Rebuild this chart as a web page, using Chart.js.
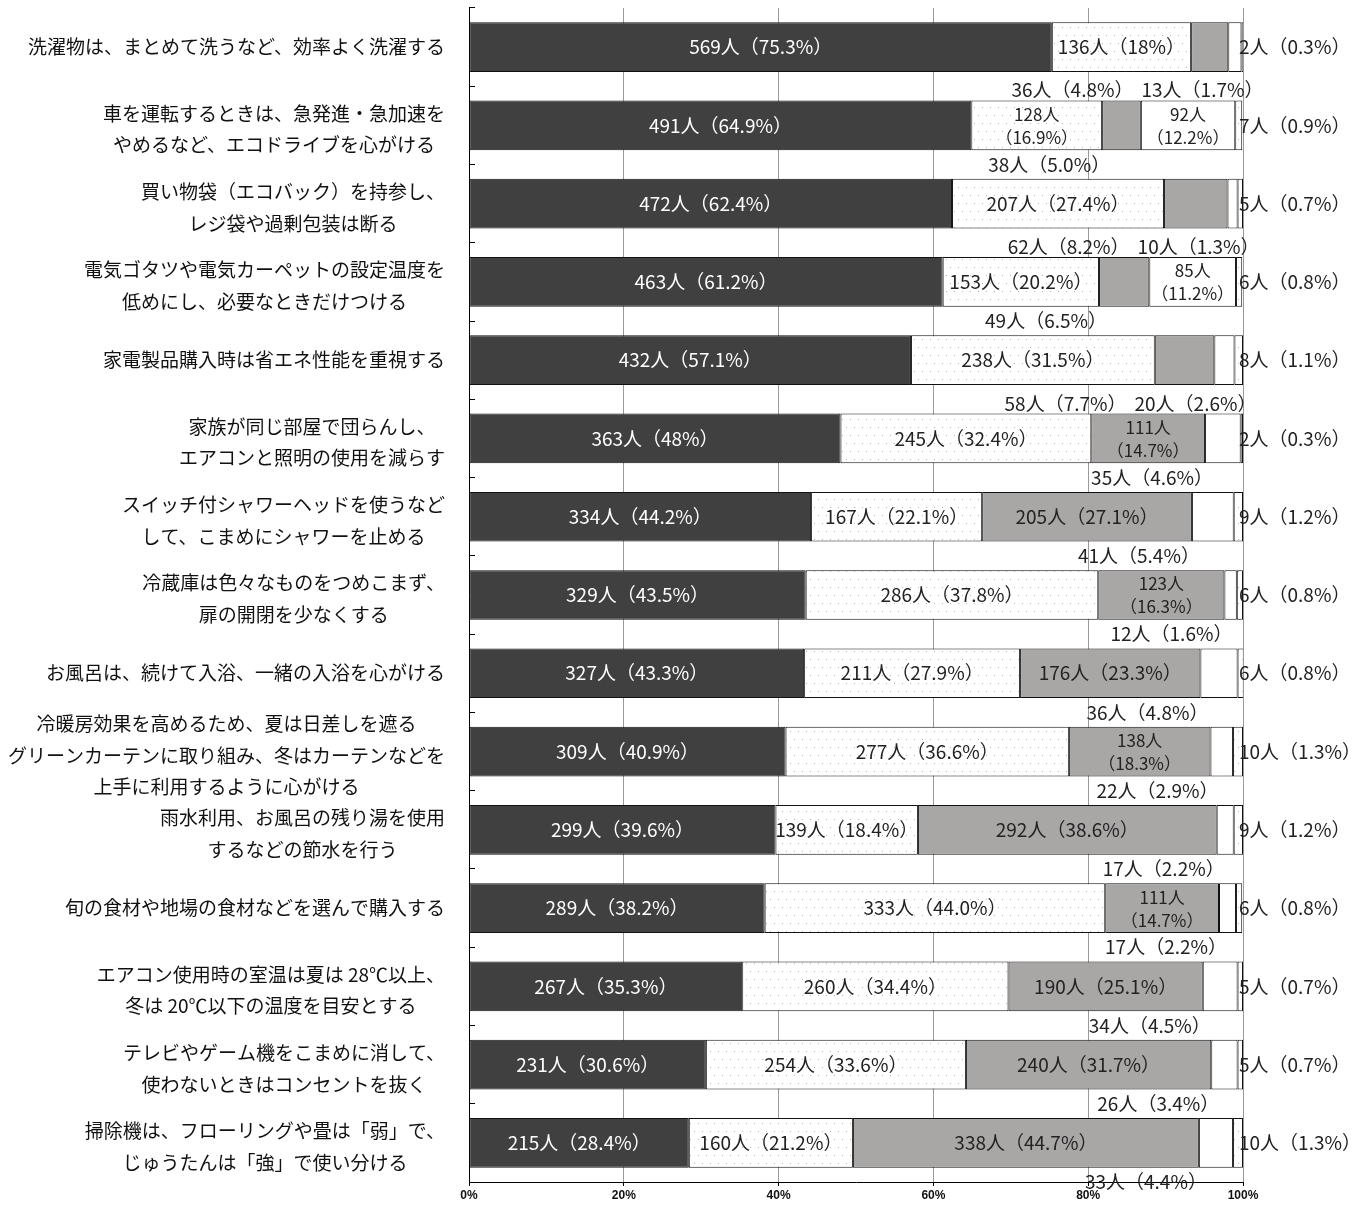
<!DOCTYPE html>
<html lang="ja">
<head>
<meta charset="utf-8">
<title>省エネ行動の実施状況</title>
<script src="https://cdn.jsdelivr.net/npm/chart.js@4.4.1/dist/chart.umd.min.js"></script>
<style>
  html, body { margin: 0; padding: 0; background: #fff; }
  #wrap { width: 1353px; height: 1207px; }
</style>
</head>
<body>
<div id="wrap"><canvas id="ecoChart" width="1353" height="1207"></canvas></div>
<script>
const categories = [
  ['洗濯物は、まとめて洗うなど、効率よく洗濯する'],
  ['車を運転するときは、急発進・急加速を', 'やめるなど、エコドライブを心がける'],
  ['買い物袋（エコバック）を持参し、', 'レジ袋や過剰包装は断る'],
  ['電気ゴタツや電気カーペットの設定温度を', '低めにし、必要なときだけつける'],
  ['家電製品購入時は省エネ性能を重視する'],
  ['家族が同じ部屋で団らんし、', 'エアコンと照明の使用を減らす'],
  ['スイッチ付シャワーヘッドを使うなど', 'して、こまめにシャワーを止める'],
  ['冷蔵庫は色々なものをつめこまず、', '扉の開閉を少なくする'],
  ['お風呂は、続けて入浴、一緒の入浴を心がける'],
  ['冷暖房効果を高めるため、夏は日差しを遮る', 'グリーンカーテンに取り組み、冬はカーテンなどを', '上手に利用するように心がける'],
  ['雨水利用、お風呂の残り湯を使用', 'するなどの節水を行う'],
  ['旬の食材や地場の食材などを選んで購入する'],
  ['エアコン使用時の室温は夏は 28℃以上、', '冬は 20℃以下の温度を目安とする'],
  ['テレビやゲーム機をこまめに消して、', '使わないときはコンセントを抜く'],
  ['掃除機は、フローリングや畳は「弱」で、', 'じゅうたんは「強」で使い分ける']
];

// counts (人) and shares (%) per answer group, top row first
const darkCount  = [569, 491, 472, 463, 432, 363, 334, 329, 327, 309, 299, 289, 267, 231, 215];
const darkPct    = ['75.3', '64.9', '62.4', '61.2', '57.1', '48', '44.2', '43.5', '43.3', '40.9', '39.6', '38.2', '35.3', '30.6', '28.4'];
const dotCount   = [136, 128, 207, 153, 238, 245, 167, 286, 211, 277, 139, 333, 260, 254, 160];
const dotPct     = ['18', '16.9', '27.4', '20.2', '31.5', '32.4', '22.1', '37.8', '27.9', '36.6', '18.4', '44.0', '34.4', '33.6', '21.2'];
const grayCount  = [36, 38, 62, 49, 58, 111, 205, 123, 176, 138, 292, 111, 190, 240, 338];
const grayPct    = ['4.8', '5.0', '8.2', '6.5', '7.7', '14.7', '27.1', '16.3', '23.3', '18.3', '38.6', '14.7', '25.1', '31.7', '44.7'];
const whiteCount = [13, 92, 10, 85, 20, 35, 41, 12, 36, 22, 17, 17, 34, 26, 33];
const whitePct   = ['1.7', '12.2', '1.3', '11.2', '2.6', '4.6', '5.4', '1.6', '4.8', '2.9', '2.2', '2.2', '4.5', '3.4', '4.4'];
const restCount  = [2, 7, 5, 6, 8, 2, 9, 6, 6, 10, 9, 6, 5, 5, 10];
const restPct    = ['0.3', '0.9', '0.7', '0.8', '1.1', '0.3', '1.2', '0.8', '0.8', '1.3', '1.2', '0.8', '0.7', '0.7', '1.3'];

const xTicks = [0, 20, 40, 60, 80, 100];

const JP = '"Noto Sans CJK JP", "Noto Sans CJK SC", sans-serif';

function dotPattern() {
  const c = document.createElement('canvas');
  c.width = 8; c.height = 16;
  const g = c.getContext('2d');
  g.fillStyle = '#fff';
  g.fillRect(0, 0, 8, 16);
  g.fillStyle = '#b5b5b5';
  g.fillRect(2, 3, 1, 1);
  g.fillRect(6, 11, 1, 1);
  return g.createPattern(c, 'repeat');
}
const dots = dotPattern();

const groups = [
  { counts: darkCount,  pcts: darkPct,  fill: '#404040', text: '#fff' },
  { counts: dotCount,   pcts: dotPct,   fill: dots,      text: '#222' },
  { counts: grayCount,  pcts: grayPct,  fill: '#a9a6a6', text: '#222' },
  { counts: whiteCount, pcts: whitePct, fill: '#fff',    text: '#222' },
  { counts: restCount,  pcts: restPct,  fill: dots,      text: '#222' }
];

const fmt = (n, p) => n + '人（' + p + '%）';

// segment labels: inside, split over two lines, under the bar, or right of it
const segmentLabels = {
  id: 'segmentLabels',
  afterDatasetsDraw(chart) {
    const ctx = chart.ctx;
    const xs = chart.scales.x;
    const band = chart.scales.y.height / categories.length;
    ctx.save();
    ctx.textBaseline = 'middle';
    categories.forEach((_, i) => {
      const below = [];
      groups.forEach((grp, d) => {
        const bar = chart.getDatasetMeta(d).data[i];
        const { x, base, y } = bar.getProps(['x', 'base', 'y'], true);
        const pct = Number(grp.pcts[i]);
        const n = grp.counts[i];
        ctx.fillStyle = grp.text;
        if (d === 4) {
          ctx.font = '19px ' + JP;
          ctx.textAlign = 'left';
          ctx.fillText(fmt(n, grp.pcts[i]), xs.getPixelForValue(100) - 4, y);
          return;
        }
        if (pct < 10) {
          below.push({ n, p: grp.pcts[i], x, base, y });
          return;
        }
        const cx = (x + base) / 2;
        const split = (d === 1 && pct < 17.5) || (d >= 2 && pct < 20);
        ctx.textAlign = 'center';
        if (split) {
          ctx.font = '17px ' + JP;
          ctx.fillText(n + '人', cx, y - 11);
          ctx.fillText('（' + grp.pcts[i] + '%）', cx, y + 12);
        } else {
          ctx.font = '19px ' + JP;
          ctx.fillText(fmt(n, grp.pcts[i]), cx, y);
        }
      });
      ctx.font = '19px ' + JP;
      ctx.textAlign = 'right';
      ctx.fillStyle = '#222';
      if (below.length === 1) {
        const b = below[0];
        ctx.fillText(fmt(b.n, b.p), b.base + 8, b.y + band / 2);
      } else if (below.length === 2) {
        const [g, w] = below;
        const wRight = w.x + 22;
        const wText = fmt(w.n, w.p);
        ctx.fillText(wText, wRight, w.y + band / 2 + 4);
        const wLeft = wRight - ctx.measureText(wText).width;
        ctx.fillText(fmt(g.n, g.p), wLeft - 8, g.y + band / 2 + 4);
      }
    });
    ctx.restore();
  }
};

// category names, each block right-aligned with its lines centred
const categoryLabels = {
  id: 'categoryLabels',
  afterDraw(chart) {
    const ctx = chart.ctx;
    const ys = chart.scales.y;
    const right = ys.right - 24;
    const lh = 31.5;
    ctx.save();
    ctx.font = '19px ' + JP;
    ctx.fillStyle = '#111';
    ctx.textAlign = 'center';
    ctx.textBaseline = 'middle';
    categories.forEach((lines, i) => {
      const w = Math.max(...lines.map(t => ctx.measureText(t).width));
      const cx = right - w / 2;
      const cy = ys.getPixelForValue(i) + (lines.length > 1 ? 4 : 0);
      lines.forEach((t, k) => {
        ctx.fillText(t, cx, cy + (k - (lines.length - 1) / 2) * lh);
      });
    });
    ctx.restore();
  }
};

new Chart(document.getElementById('ecoChart'), {
  type: 'bar',
  data: {
    labels: categories,
    datasets: groups.map(grp => ({
      data: grp.pcts.map(Number),
      backgroundColor: grp.fill,
      borderColor: '#111',
      borderWidth: 1,
      borderSkipped: false,
      categoryPercentage: 1,
      barPercentage: 0.635
    }))
  },
  options: {
    indexAxis: 'y',
    responsive: false,
    animation: false,
    devicePixelRatio: 1,
    layout: { padding: { top: 8, right: 110, left: 0, bottom: 0 } },
    plugins: { legend: { display: false }, tooltip: { enabled: false } },
    scales: {
      x: {
        stacked: true,
        min: 0,
        max: 100,
        afterFit: s => { s.height = 25; },
        afterBuildTicks: s => { s.ticks = xTicks.map(v => ({ value: v })); },
        grid: { color: '#9a9a9a', tickColor: '#000', tickLength: 4 },
        border: { color: '#000' },
        ticks: {
          padding: 2,
          color: '#111',
          font: { family: '"Liberation Sans", sans-serif', size: 12, weight: 'bold' },
          callback: v => v + '%'
        }
      },
      y: {
        stacked: true,
        afterFit: s => { s.width = 469; },
        grid: { drawOnChartArea: false, color: '#000', tickLength: -6 },
        border: { color: '#000' },
        ticks: { display: false }
      }
    }
  },
  plugins: [segmentLabels, categoryLabels]
});
</script>
</body>
</html>
